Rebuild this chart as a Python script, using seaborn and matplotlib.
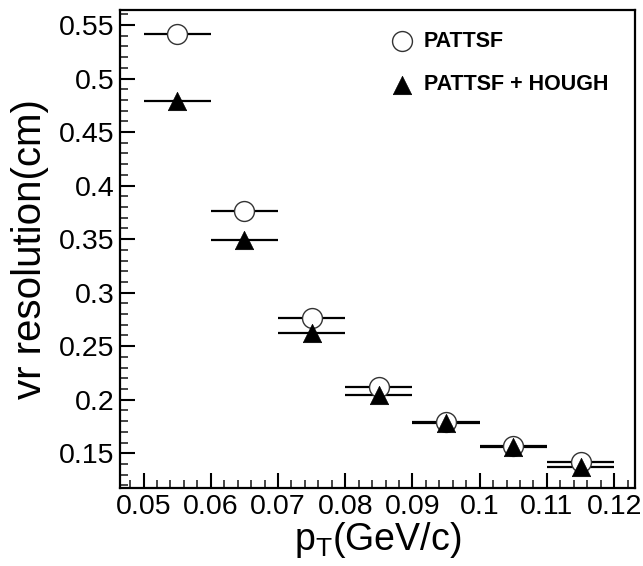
import matplotlib
matplotlib.use("Agg")
import matplotlib.pyplot as plt
import seaborn as sns
import pandas as pd
from matplotlib.ticker import MultipleLocator, FixedLocator

# ---- data ----
pt = [0.055, 0.065, 0.075, 0.085, 0.095, 0.105, 0.115]
pt_err = [0.005, 0.005, 0.005, 0.005, 0.005, 0.005, 0.005]
res_pattsf = [0.542, 0.376, 0.276, 0.212, 0.179, 0.157, 0.142]
res_hough = [0.479, 0.349, 0.262, 0.204, 0.178, 0.156, 0.137]
series_names = ["PATTSF", "PATTSF + HOUGH"]
x_ticks = [0.05, 0.06, 0.07, 0.08, 0.09, 0.10, 0.11, 0.12]
x_ticklabels = ["0.05", "0.06", "0.07", "0.08", "0.09", "0.1", "0.11", "0.12"]
y_ticks = [0.15, 0.2, 0.25, 0.3, 0.35, 0.4, 0.45, 0.5, 0.55]
y_ticklabels = ["0.15", "0.2", "0.25", "0.3", "0.35", "0.4", "0.45", "0.5", "0.55"]

sns.set_style("white")
plt.rcParams["font.family"] = ["Liberation Sans", "DejaVu Sans"]
plt.rcParams["mathtext.fontset"] = "custom"
plt.rcParams["mathtext.rm"] = "Liberation Sans"
plt.rcParams["text.color"] = "black"
plt.rcParams["axes.labelcolor"] = "black"

df1 = pd.DataFrame({"pt": pt, "res": res_pattsf})
df2 = pd.DataFrame({"pt": pt, "res": res_hough})

fig = plt.figure(figsize=(6.43, 5.66), dpi=100)
ax = fig.add_axes([0.1866, 0.1378, 0.8010, 0.8445])

# error bars (horizontal)
ax.errorbar(pt, res_pattsf, xerr=pt_err, fmt="none", ecolor="black",
            elinewidth=1.6, capsize=0, zorder=2)
ax.errorbar(pt, res_hough, xerr=pt_err, fmt="none", ecolor="black",
            elinewidth=1.6, capsize=0, zorder=2)

sns.scatterplot(data=df1, x="pt", y="res", ax=ax, marker="o", s=205,
                facecolor="white", edgecolor="#333333", linewidth=1.0,
                label=series_names[0], zorder=3)
sns.scatterplot(data=df2, x="pt", y="res", ax=ax, marker="^", s=175,
                color="black", edgecolor="black", linewidth=0.5,
                label=series_names[1], zorder=4)

ax.set_xlim(0.0465, 0.1231)
ax.set_ylim(0.1175, 0.564)

ax.xaxis.set_major_locator(FixedLocator(x_ticks))
ax.set_xticklabels(x_ticklabels)
ax.yaxis.set_major_locator(FixedLocator(y_ticks))
ax.set_yticklabels(y_ticklabels)
ax.xaxis.set_minor_locator(MultipleLocator(0.002))
ax.yaxis.set_minor_locator(MultipleLocator(0.01))

ax.tick_params(axis="both", which="major", direction="in", length=11,
               width=1.5, labelsize=20.5, colors="black", pad=4,
               top=False, right=False, left=True, bottom=True)
ax.tick_params(axis="both", which="minor", direction="in", length=5.5,
               width=1.2, top=False, right=False, left=True, bottom=True)

for s in ax.spines.values():
    s.set_visible(True)
    s.set_color("black")
    s.set_linewidth(1.6)

ax.set_xlabel(r"p$_{\mathregular{T}}$(GeV/c)", fontsize=27, labelpad=0,
              color="black")
ax.set_ylabel("vr resolution(cm)", fontsize=29, labelpad=7, color="black")

leg = ax.legend(loc="upper left", bbox_to_anchor=(0.508, 0.975), frameon=False,
                prop={"weight": "bold", "size": 15.5}, labelspacing=1.05,
                handletextpad=0.45, borderaxespad=0.0, handlelength=1.1)
for t in leg.get_texts():
    t.set_color("black")

fig.savefig("out.png", dpi=100)
